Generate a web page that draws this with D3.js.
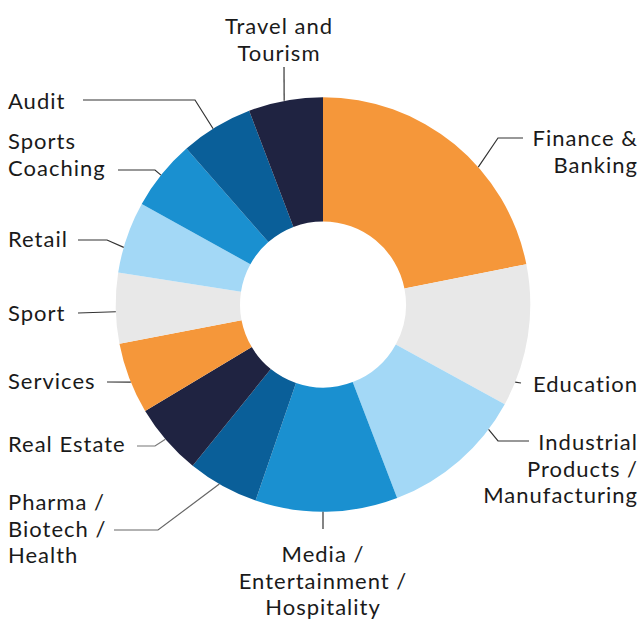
<!DOCTYPE html>
<html>
<head>
<meta charset="utf-8">
<script src="https://cdn.jsdelivr.net/npm/d3@7/dist/d3.min.js"></script>
<style>
  body { margin: 0; background: #fff; }
  svg text { font-family: Lato, "Open Sans", sans-serif; font-size: 22px; letter-spacing: 1px; fill: #1a1a1a; }
</style>
</head>
<body>
<div id="chart"></div>
<script>
// Sektoren im Uhrzeigersinn, Start oben
const sectors = ["Finance & Banking", "Education", "Industrial Products / Manufacturing",
  "Media / Entertainment / Hospitality", "Pharma / Biotech / Health", "Real Estate",
  "Services", "Sport", "Retail", "Sports Coaching", "Audit", "Travel and Tourism"];
// Anteile in %, aus dem Bild geschätzt
const shares = [21.9, 11.1, 11.2, 11.1, 5.55, 5.6, 5.55, 5.5, 5.6, 5.5, 5.65, 5.8];
const colors = ["#f5973a", "#e8e8e8", "#a3d8f6", "#1a90d0", "#0a5f99", "#1f2341",
  "#f5973a", "#e8e8e8", "#a3d8f6", "#1a90d0", "#0a5f99", "#1f2341"];

// Beschriftungen: Zeilen, Ankerpunkt, Startwinkel der Linie (Grad), Knickpunkte
const labelLines = [["Finance &", "Banking"], ["Education"], ["Industrial", "Products /", "Manufacturing"],
  ["Media /", "Entertainment /", "Hospitality"], ["Pharma /", "Biotech /", "Health"], ["Real Estate"],
  ["Services"], ["Sport"], ["Retail"], ["Sports", "Coaching"], ["Audit"], ["Travel and", "Tourism"]];
const labelPos = [
  { x: 638, y: 146, anchor: "end" }, { x: 638, y: 392, anchor: "end" }, { x: 638, y: 450, anchor: "end" },
  { x: 323, y: 562, anchor: "middle" }, { x: 8, y: 510, anchor: "start" }, { x: 8, y: 452, anchor: "start" },
  { x: 8, y: 389, anchor: "start" }, { x: 8, y: 321, anchor: "start" }, { x: 8, y: 247, anchor: "start" },
  { x: 8, y: 149, anchor: "start" }, { x: 8, y: 109, anchor: "start" }, { x: 279, y: 34, anchor: "middle" }];
const leaderAngle = [48.5, 112, 127, 180, 210, 229.5, 248, 268, 286, 308.6, 328, 349.2];
const leaderPts = [
  [[498, 138], [523, 138]], [[521, 383]], [[498, 441], [529, 441]],
  [[323, 529]], [[158, 530], [114, 530]], [[155, 446], [137, 446]],
  [[107, 382]], [[78, 313]], [[107, 240], [78, 240]],
  [[155, 170], [118, 170]], [[195, 100], [83, 100]], [[284, 67]]];
const leaderColor = ["#333", "#333", "#333", "#333", "#666", "#777",
  "#333", "#333", "#333", "#333", "#333", "#333"];

const w = 640, h = 619;
const cx = 323, cy = 304.5;
const rOuter = 207.3, rInner = 83;
const lineH = 26.5;

const svg = d3.select("#chart").append("svg")
  .attr("width", w).attr("height", h);

const data = sectors.map((s, i) => ({ name: s, value: shares[i], i: i }));
const pie = d3.pie().value(d => d.value).sort(null);
const arc = d3.arc().innerRadius(rInner).outerRadius(rOuter);

const g = svg.append("g").attr("transform", `translate(${cx},${cy})`);
g.selectAll("path")
  .data(pie(data))
  .enter()
  .append("path")
  .attr("d", arc)
  .attr("fill", d => colors[d.data.i]);

// Linien
const line = d3.line();
data.forEach((d, i) => {
  const a = leaderAngle[i] * Math.PI / 180;
  const start = [cx + rOuter * Math.sin(a), cy - rOuter * Math.cos(a)];
  svg.append("path")
    .attr("d", line([start].concat(leaderPts[i])))
    .attr("fill", "none")
    .attr("stroke", leaderColor[i])
    .attr("stroke-width", 1.2);
});

// Texte
data.forEach((d, i) => {
  const p = labelPos[i];
  const t = svg.append("text")
    .attr("x", p.x).attr("y", p.y)
    .attr("text-anchor", p.anchor);
  labelLines[i].forEach((l, k) => {
    t.append("tspan").attr("x", p.x).attr("y", p.y + k * lineH).text(l);
  });
});
</script>
</body>
</html>
